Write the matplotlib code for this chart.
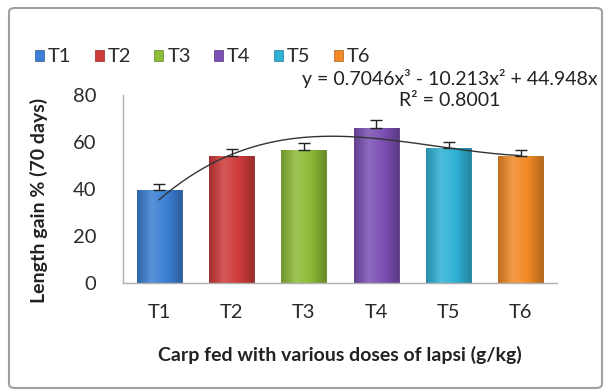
import numpy as np
import matplotlib
matplotlib.use("Agg")
import matplotlib.pyplot as plt
from matplotlib.patches import Patch, FancyBboxPatch
from matplotlib.colors import LinearSegmentedColormap, to_rgb

plt.rcParams["font.family"] = ["Lato", "DejaVu Sans"]

# ── data ──
treatments = ["T1", "T2", "T3", "T4", "T5", "T6"]
length_gain = [39.5, 54.0, 56.5, 66.0, 57.5, 54.0]
err_plus = [2.5, 3.0, 3.0, 3.5, 2.5, 2.5]
bar_colors = ["#3b7fd4", "#cf3a3a", "#8dbb37", "#7b4fb3", "#2fb2d6", "#f28a26"]
trend_coef = [0.7046, -10.213, 44.948, 0.0]   # cubic trendline, from equation text
eq_text = "y = 0.7046x³ - 10.213x² + 44.948x"
r2_text = "R² = 0.8001"


def shade(c, f):
    r, g, b = to_rgb(c)
    if f >= 0:
        return (r + (1 - r) * f, g + (1 - g) * f, b + (1 - b) * f)
    return (r * (1 + f), g * (1 + f), b * (1 + f))


fig = plt.figure(figsize=(6.08, 3.9), dpi=100)
ax = fig.add_axes([123 / 608, 1 - 283 / 390, 434 / 608, (283 - 95) / 390])

x = np.arange(1, len(treatments) + 1)
bars = ax.bar(x, length_gain, width=0.62, color=bar_colors, zorder=2,
              edgecolor=[shade(c, -0.3) for c in bar_colors], linewidth=0.6)

# gradient fill (Excel bevel look)
for rect, c in zip(bars, bar_colors):
    cmap = LinearSegmentedColormap.from_list(
        "g", [shade(c, -0.2), shade(c, 0.15), c, shade(c, -0.25)])
    x0, w, h = rect.get_x(), rect.get_width(), rect.get_height()
    im = ax.imshow(np.linspace(0, 1, 64).reshape(1, -1), cmap=cmap, aspect="auto",
                   extent=(x0, x0 + w, 0, h), zorder=2.1, interpolation="bicubic")
    im.set_clip_path(rect)

ax.errorbar(x, length_gain, yerr=[np.zeros(len(x)), err_plus], fmt="none",
            ecolor="#222222", elinewidth=1.0, capsize=4, capthick=1.0, zorder=3)

xs = np.linspace(1, 6, 200)
ax.plot(xs, np.polyval(trend_coef, xs), color="#333333", lw=1.0, zorder=4)

ax.set_xlim(0.5, 6.5)
ax.set_ylim(0, 80)
ax.set_yticks([0, 20, 40, 60, 80])
ax.set_xticks(x)
ax.set_xticklabels(treatments)
ax.tick_params(length=0, labelsize=14.5, colors="#2a2a2a")
ax.tick_params(axis="y", pad=19)
ax.tick_params(axis="x", pad=15)
for s in ("top", "right"):
    ax.spines[s].set_visible(False)
for s in ("left", "bottom"):
    ax.spines[s].set_color("#b0b0b0")
    ax.spines[s].set_linewidth(1.0)

ax.set_ylabel("Length gain % (70 days)", fontsize=14, fontweight="bold",
              color="#222222")
ax.yaxis.set_label_coords((48 - 123) / 434, (283 - 200) / 188)
ax.set_xlabel("Carp fed with various doses of lapsi (g/kg)", fontsize=14,
              fontweight="bold", color="#222222")
ax.xaxis.set_label_coords(0.5, -(355 - 283) / 188, transform=ax.transAxes)
ax.xaxis.label.set_va("center")

handles = [Patch(facecolor=c, edgecolor=shade(c, -0.3), lw=0.5) for c in bar_colors]
fig.legend(handles, treatments, loc="center left", bbox_to_anchor=(35 / 608, 1 - 57 / 390),
           ncol=6, frameon=False, fontsize=14.5, handlelength=0.45, handleheight=0.45,
           handletextpad=0.2, columnspacing=1.15, borderaxespad=0, borderpad=0,
           labelcolor="#2a2a2a")

fig.text(450 / 608, 1 - 78 / 390, eq_text, ha="center", va="center", fontsize=14,
         color="#222222")
fig.text(450 / 608, 1 - 100 / 390, r2_text, ha="center", va="center", fontsize=14,
         color="#222222")

frame = FancyBboxPatch((9 / 608, 1 - 388 / 390), (602 - 9) / 608, (388 - 8) / 390,
                       boxstyle="round,pad=0,rounding_size=0.01", transform=fig.transFigure,
                       facecolor="none", edgecolor="#a0a0a0", lw=1.5)
fig.patches.append(frame)

fig.savefig("out.png", dpi=100)
